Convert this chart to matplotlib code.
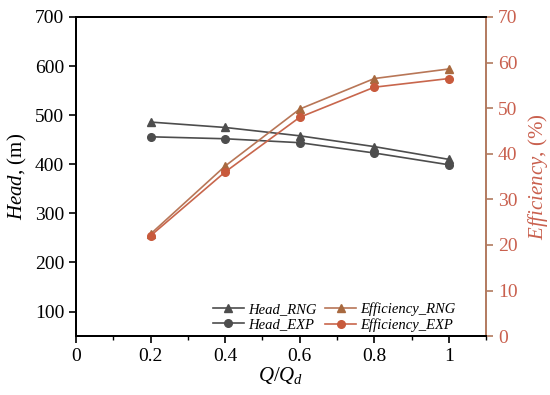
import matplotlib.pyplot as plt
from matplotlib.ticker import MultipleLocator

# Data
flow_ratio = [0.2, 0.4, 0.6, 0.8, 1.0]
head_rng = [486, 475, 458, 436, 410]
head_exp = [456, 452, 444, 423, 399]
eff_rng = [22.4, 37.3, 49.8, 56.5, 58.6]
eff_exp = [22.0, 36.0, 48.0, 54.6, 56.5]

plt.rcParams['font.family'] = ['Liberation Serif', 'DejaVu Serif']
plt.rcParams['mathtext.fontset'] = 'custom'
plt.rcParams['mathtext.rm'] = 'Liberation Serif'
plt.rcParams['mathtext.it'] = 'Liberation Serif:italic'

head_color = '#4d4d4d'
eff_line = '#b87657'
eff_axis = '#b27a5f'
eff_text = '#c9604e'

fig = plt.figure(figsize=(5.5, 3.95), dpi=100)
ax = fig.add_axes([0.138, 0.149, 0.746, 0.808])
ax2 = ax.twinx()

l1, = ax.plot(flow_ratio, head_rng, color=head_color, lw=1.2, marker='^', ms=5.5,
              label='Head_RNG')
l2, = ax.plot(flow_ratio, head_exp, color=head_color, lw=1.2, marker='o', ms=5.5,
              label='Head_EXP')
l3, = ax2.plot(flow_ratio, eff_rng, color=eff_line, lw=1.2, marker='^', ms=5.5,
               mfc='#a8693f', mec='#a8693f', label='Efficiency_RNG')
l4, = ax2.plot(flow_ratio, eff_exp, color='#c8664c', lw=1.2, marker='o', ms=5.5,
               mfc='#c85a3c', mec='#c85a3c', label='Efficiency_EXP')

ax.set_xlim(0, 1.1)
ax.set_ylim(50, 700)
ax2.set_ylim(0, 70)
ax.xaxis.set_minor_locator(MultipleLocator(0.1))
ax.yaxis.set_major_locator(MultipleLocator(100))
ax2.yaxis.set_major_locator(MultipleLocator(10))
ax.set_xticks([0, 0.2, 0.4, 0.6, 0.8, 1.0])
ax.set_xticklabels(['0', '0.2', '0.4', '0.6', '0.8', '1'])

ax.tick_params(axis='both', which='major', direction='out', length=5, width=1.2,
               labelsize=14, colors='black')
ax.tick_params(axis='x', which='minor', direction='out', length=3, width=1.0)
ax2.tick_params(axis='y', which='major', direction='out', length=5, width=1.2,
                labelsize=14, colors=eff_axis, labelcolor=eff_text)

for s in ['left', 'bottom', 'top']:
    ax.spines[s].set_linewidth(1.4)
    ax2.spines[s].set_linewidth(1.4)
ax2.spines['right'].set_color(eff_axis)
ax2.spines['right'].set_linewidth(1.4)
ax.spines['right'].set_visible(False)

ax.set_xlabel(r'$Q/Q_d$', fontsize=15, labelpad=0)
ax.set_ylabel(r'$Head$, (m)', fontsize=15, labelpad=4)
ax2.set_ylabel(r'$Efficiency$, (%)', fontsize=15, color=eff_text, labelpad=6)

leg = ax.legend(handles=[l1, l2, l3, l4], ncol=2, loc='lower right',
                bbox_to_anchor=(0.94, -0.005), frameon=False, handlelength=2.1,
                columnspacing=0.6, handletextpad=0.3, labelspacing=0.15,
                borderpad=0.2, borderaxespad=0.2,
                prop={'family': 'Liberation Serif', 'style': 'italic', 'size': 10.5})

fig.savefig('out.png', dpi=100)
